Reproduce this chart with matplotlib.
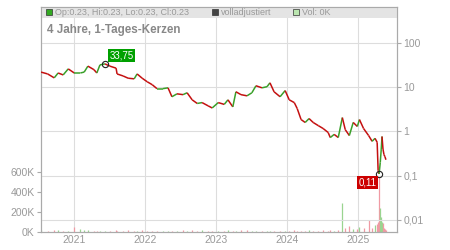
import numpy as np
import pandas as pd
import matplotlib
matplotlib.use("Agg")
from matplotlib import pyplot as plt
import matplotlib.dates as mdates
from matplotlib.collections import LineCollection
from matplotlib.patches import Rectangle
from matplotlib.ticker import FixedLocator, FuncFormatter

plt.rcParams['font.family'] = ['Liberation Sans', 'DejaVu Sans']

# closing prices (log scale)
dates = [
    "2020-07-14", "2020-08-17", "2020-09-20", "2020-10-10", "2020-11-05", "2020-12-01",
    "2021-01-01", "2021-02-01", "2021-02-21", "2021-03-12", "2021-04-12", "2021-04-27",
    "2021-05-13", "2021-06-08", "2021-07-03", "2021-08-04", "2021-08-09", "2021-09-09",
    "2021-10-05", "2021-11-05", "2021-11-20", "2021-12-16", "2022-01-11", "2022-02-06",
    "2022-03-02", "2022-04-02", "2022-04-28", "2022-05-18", "2022-06-13", "2022-07-14",
    "2022-08-04", "2022-08-30", "2022-09-25", "2022-10-20", "2022-11-20", "2022-12-11",
    "2023-01-11", "2023-02-11", "2023-03-02", "2023-03-27", "2023-04-12", "2023-05-08",
    "2023-06-08", "2023-07-03", "2023-07-24", "2023-08-24", "2023-09-19", "2023-10-04",
    "2023-10-25", "2023-11-25", "2023-12-21", "2024-01-11", "2024-02-06", "2024-02-21",
    "2024-03-12", "2024-04-02", "2024-04-22", "2024-05-13", "2024-06-08", "2024-07-03",
    "2024-07-29", "2024-08-09", "2024-08-29", "2024-09-19", "2024-10-10", "2024-10-25",
    "2024-11-15", "2024-12-05", "2024-12-26", "2025-01-06", "2025-01-27", "2025-02-22",
    "2025-03-12", "2025-03-27", "2025-04-07", "2025-04-12", "2025-04-17", "2025-04-23",
    "2025-04-28", "2025-05-02", "2025-05-07", "2025-05-12", "2025-05-17", "2025-05-22",
]
closes = [
    22, 20, 16.3, 21, 19, 26,
    21, 21, 22, 30, 25, 21,
    32, 33.75, 30, 27, 20, 18,
    16, 15.5, 20, 16, 13.3, 11.4,
    9.3, 9.3, 9.7, 6.1, 7.1, 6.8,
    7.5, 5.2, 4.3, 4.5, 3.8, 3.4,
    4.5, 4.1, 5.2, 3.6, 7.9, 6.8,
    6.4, 7.5, 10.8, 9.7, 10.3, 12.6,
    7.9, 6.1, 8.4, 5.2, 4.5, 3.3,
    1.86, 1.6, 1.96, 1.6, 1.36, 1.17,
    0.95, 0.73, 0.86, 0.73, 2.06, 1.1,
    0.81, 1.6, 1.3, 1.86, 1.17, 0.81,
    0.6, 0.7, 0.57, 0.13, 0.11, 0.2,
    0.4, 0.77, 0.4, 0.3, 0.27, 0.23,
]
# volume in thousands
volumes = [
    20, 15, 20, 25, 15, 10,
    50, 30, 25, 20, 15, 10,
    10, 15, 10, 20, 15, 10,
    20, 15, 15, 20, 15, 10,
    15, 10, 15, 10, 15, 20,
    10, 25, 15, 20, 15, 15,
    15, 10, 20, 15, 10, 25,
    20, 15, 10, 15, 10, 15,
    10, 15, 10, 15, 20, 15,
    15, 10, 20, 15, 15, 20,
    15, 20, 15, 20, 290, 40,
    60, 30, 30, 50, 40, 120,
    40, 70, 80, 100, 550, 240,
    150, 100, 90, 40, 30, 20,
]

max_label = "33,75"
min_label = "0,11"
header_items = ["Op:0.23, Hi:0.23, Lo:0.23, Cl:0.23", "volladjustiert", "Vol: 0K"]
title = "4 Jahre, 1-Tages-Kerzen"

x = mdates.date2num(pd.to_datetime(dates))
c = np.array(closes)
v = np.array(volumes) * 1000.0
up = np.r_[True, c[1:] >= c[:-1]]

fig = plt.figure(figsize=(4.5, 2.5), dpi=100)
ax_v = fig.add_axes([41 / 450, 18 / 250, 356 / 450, 225 / 250])
ax_p = ax_v.twinx()

grid_col = "#dddddd"
text_col = "#999999"
frame_col = "#aaaaaa"

# volume as thin 1px bars
vcol = np.where(up, "#9ad490", "#f09aa4")
ax_v.vlines(x, 0, v, colors=vcol, linewidth=0.9)
ax_v.set_ylim(0, 2.25e6)
ax_v.yaxis.set_major_locator(FixedLocator([0, 2e5, 4e5, 6e5]))
ax_v.yaxis.set_major_formatter(FuncFormatter(lambda val, pos: f"{int(val / 1000)}K"))

# price line coloured by direction
pts = np.column_stack([x, c])
segs = np.stack([pts[:-1], pts[1:]], axis=1)
seg_cols = np.where(c[1:] >= c[:-1], "#3aa02a", "#c41010")
ax_p.add_collection(LineCollection(segs, colors=seg_cols, linewidths=1.1, zorder=3))
ax_p.set_yscale("log")
ax_p.set_ylim(0.00535, 651)
ax_p.yaxis.set_major_locator(FixedLocator([0.01, 0.1, 1, 10, 100]))
ax_p.yaxis.set_minor_locator(FixedLocator([]))
ax_p.yaxis.set_major_formatter(FuncFormatter(lambda val, pos: f"{val:g}".replace(".", ",")))
ax_p.grid(True, axis="y", color=grid_col, linewidth=0.8, zorder=0)

ax_v.set_xlim(mdates.datestr2num("2020-07-14"), mdates.datestr2num("2025-07-18"))
ax_v.xaxis.set_major_locator(mdates.YearLocator())
ax_v.xaxis.set_major_formatter(mdates.DateFormatter("%Y"))
ax_v.grid(True, axis="x", color=grid_col, linewidth=0.8)
ax_v.set_axisbelow(True)

for a in (ax_v, ax_p):
    for s in a.spines.values():
        s.set_color(frame_col)
        s.set_linewidth(0.8)
    a.tick_params(colors=frame_col, labelcolor=text_col, labelsize=7.5, length=3, width=0.8, pad=1.5)
ax_v.tick_params(axis="x", length=0, pad=2)

# extremes
imax = int(np.argmax(c))
imin = int(np.argmin(c))
ax_p.plot(x[imax], c[imax], "o", mfc="none", mec="#222222", ms=4.5, mew=0.8, zorder=4)
ax_p.plot(x[imin], c[imin], "o", mfc="none", mec="#222222", ms=4.5, mew=0.8, zorder=4)
ax_p.annotate(max_label, (x[imax], c[imax]), xytext=(3.5, 2.5), textcoords="offset points",
              ha="left", va="bottom", color="white", fontsize=7,
              bbox=dict(boxstyle="square,pad=0.15", fc="#00a000", ec="none"), zorder=5)
ax_p.annotate(min_label, (x[imin], c[imin]), xytext=(-2, -2.5), textcoords="offset points",
              ha="right", va="top", color="white", fontsize=7,
              bbox=dict(boxstyle="square,pad=0.15", fc="#cc0000", ec="none"), zorder=5)

# header band
ax_p.add_patch(Rectangle((0, 214 / 225), 1, 11 / 225, transform=ax_p.transAxes,
                         fc="#e4e4e4", ec="none", zorder=0))
sq_cols = ["#33aa22", "#444444", "#bbe6b0"]
sq_x = [5 / 356, 171 / 356, 252 / 356]
for sx, col, txt in zip(sq_x, sq_cols, header_items):
    ax_p.add_patch(Rectangle((sx, 216.5 / 225), 6 / 356, 6 / 225, transform=ax_p.transAxes,
                             fc=col, ec="#333333", lw=0.5, zorder=5))
    ax_p.text(sx + 9 / 356, 219.3 / 225, txt, transform=ax_p.transAxes, fontsize=6.5,
              color=text_col, va="center", ha="left", zorder=5)
ax_p.text(6 / 356, 202 / 225, title, transform=ax_p.transAxes, fontsize=8.4,
          fontweight="bold", color="#888888", va="center", ha="left", zorder=5)

fig.savefig("out.png", dpi=100)
